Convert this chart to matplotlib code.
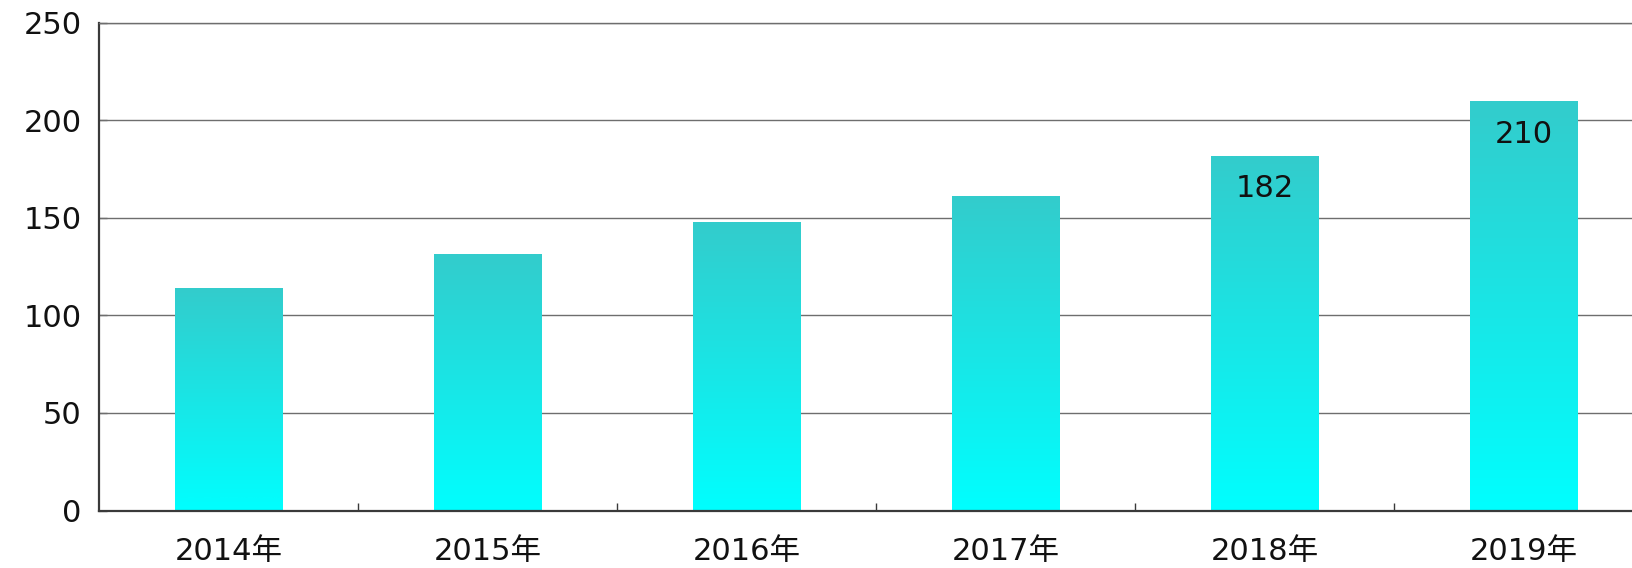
import matplotlib
matplotlib.use("Agg")
import matplotlib.pyplot as plt
import matplotlib.ticker as ticker
import numpy as np
from matplotlib.colors import LinearSegmentedColormap

plt.rcParams.update({
    "font.family": ["DejaVu Sans", "Noto Sans CJK JP"],
    "font.size": 22,
    "axes.unicode_minus": False,
})

# data
years = ["2014年", "2015年", "2016年", "2017年", "2018年", "2019年"]
values = [114, 131.5, 148, 161, 182, 210]
labelled = {4: "182", 5: "210"}
y_ticks = [0, 50, 100, 150, 200, 250]

TOP_COLOR = "#33CCCC"
BOTTOM_COLOR = "#00FFFF"
GRID_COLOR = "#6e6e6e"
AXIS_COLOR = "#3a3a3a"


def main():
    fig = plt.figure(figsize=(16.33, 5.68), dpi=100)
    ax = fig.add_axes([0.0609, 0.1012, 0.9391, 0.8585])

    x = np.arange(len(years))
    bars = ax.bar(x, values, width=0.415, color="none", edgecolor="none", zorder=2)

    # vertical gradient inside each bar
    cmap = LinearSegmentedColormap.from_list("bar_grad", [BOTTOM_COLOR, TOP_COLOR])
    grad = np.linspace(0, 1, 256).reshape(-1, 1)
    for b in bars:
        x0, w, h = b.get_x(), b.get_width(), b.get_height()
        ax.imshow(grad, cmap=cmap, origin="lower", aspect="auto",
                  extent=(x0, x0 + w, 0, h), zorder=2, interpolation="bilinear")

    for i, txt in labelled.items():
        ax.annotate(txt, xy=(x[i], values[i]), xytext=(0, -24),
                    textcoords="offset points", ha="center", va="center",
                    color="#111111", zorder=3)

    ax.set_xlim(-0.5, 5.421)
    ax.set_ylim(0, 250)
    ax.set_yticks(y_ticks)
    ax.set_xticks(x)
    ax.set_xticklabels(years)
    ax.xaxis.set_minor_locator(ticker.FixedLocator(x[:-1] + 0.5))

    ax.yaxis.grid(True, color=GRID_COLOR, linewidth=1.0, zorder=1)
    ax.set_axisbelow(True)

    ax.tick_params(axis="x", which="major", length=0, pad=19, colors="#111111")
    ax.tick_params(axis="x", which="minor", direction="in", length=6,
                   width=1.0, color=AXIS_COLOR)
    ax.tick_params(axis="y", direction="in", length=6, width=1.0,
                   pad=13, colors="#111111")
    ax.tick_params(axis="y", color=GRID_COLOR)

    for side in ["left", "bottom"]:
        ax.spines[side].set_color(AXIS_COLOR)
        ax.spines[side].set_linewidth(1.6)
    ax.spines["top"].set_color(GRID_COLOR)
    ax.spines["top"].set_linewidth(1.0)
    ax.spines["right"].set_visible(False)

    fig.savefig("out.png", dpi=100)
    plt.close(fig)


if __name__ == "__main__":
    main()
